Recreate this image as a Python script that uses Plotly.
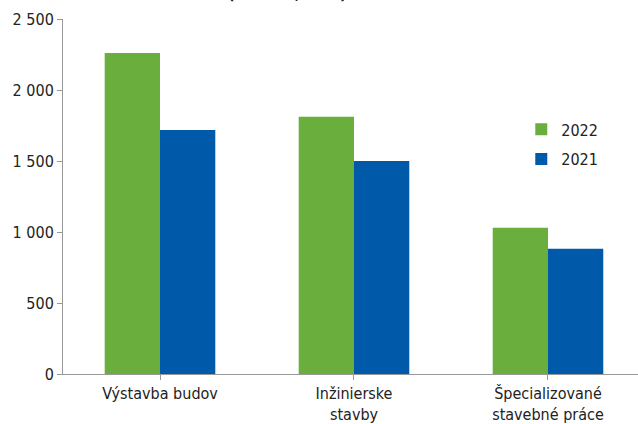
import plotly.graph_objects as go

categories = ["Výstavba budov", "Inžinierske<br>stavby", "Špecializované<br>stavebné práce"]
values_2022 = [2261, 1812, 1030]
values_2021 = [1718, 1500, 882]
series_names = ["2022", "2021"]
y_ticks = [0, 500, 1000, 1500, 2000, 2500]

FONT = "Liberation Sans Narrow, DejaVu Sans Condensed, Arial Narrow, sans-serif"

fig = go.Figure()
fig.add_trace(go.Bar(x=[0, 1, 2], y=values_2022, name=series_names[0], legendgroup="a",
                     marker=dict(color="#6AAF3D", line=dict(width=0))))
fig.add_trace(go.Bar(x=[0, 1, 2], y=values_2021, name=series_names[1], legendgroup="b",
                     marker=dict(color="#005AA9", line=dict(width=0))))

fig.update_layout(
    width=638, height=424,
    margin=dict(l=63, r=0, t=19, b=50),
    barmode="group", bargap=0.43, bargroupgap=0,
    paper_bgcolor="white", plot_bgcolor="white",
    separators=", ",
    font=dict(family=FONT, size=16, color="#222222"),
    showlegend=True,
    legend=dict(x=0.797, y=0.737, xanchor="left", yanchor="top",
                font=dict(family=FONT, size=16, color="#222222"),
                bgcolor="rgba(0,0,0,0)", itemwidth=30, tracegroupgap=6),
    xaxis=dict(range=[-0.5, 2.464], tickvals=[0, 1, 2], ticktext=categories,
               tickson="boundaries", ticks="outside", ticklen=5, tickcolor="#999999",
               showline=True, linecolor="#999999", linewidth=1, showgrid=False,
               zeroline=False, tickfont=dict(family=FONT, size=16)),
    yaxis=dict(range=[0, 2500], tickvals=y_ticks, tickformat=",d",
               ticks="outside", ticklen=5, tickcolor="#999999",
               showline=True, linecolor="#999999", linewidth=1, showgrid=False,
               zeroline=False, tickfont=dict(family=FONT, size=16)),
    annotations=[dict(text="<b>(mil. eur, b. c.)</b>", xref="paper", yref="paper",
                      x=0.39, y=1.040, xanchor="center", yanchor="bottom",
                      showarrow=False, font=dict(family=FONT, size=16, color="#222222"))],
)

fig.write_html("out.html", config={"displayModeBar": False},
               post_script="document.body.style.margin='0';")
